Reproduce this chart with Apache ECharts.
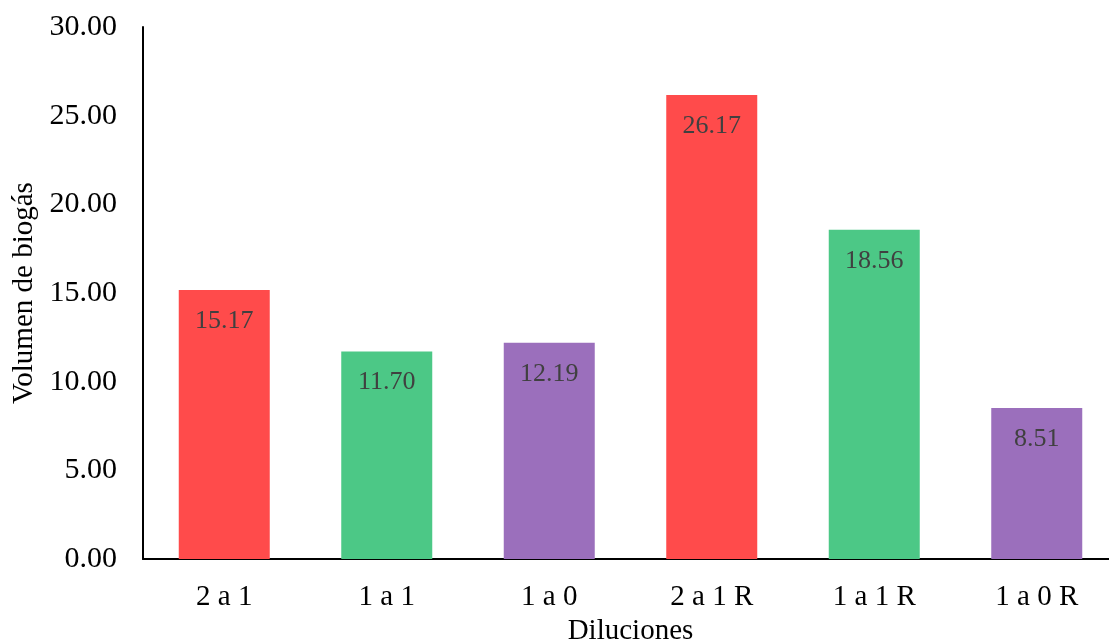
<!DOCTYPE html>
<html>
<head>
<meta charset="utf-8">
<script src="https://cdn.jsdelivr.net/npm/echarts@6/dist/echarts.min.js"></script>
<style>
  html, body { margin: 0; padding: 0; background: #fff; }
  #chart { width: 1109px; height: 643px; }
</style>
</head>
<body>
<div id="chart"></div>
<script>
// Biogas volume per dilution
const categories = ['2 a 1', '1 a 1', '1 a 0', '2 a 1 R', '1 a 1 R', '1 a 0 R'];
const volumes = [15.17, 11.70, 12.19, 26.17, 18.56, 8.51];
const barColors = ['#FF4B4B', '#4CC886', '#9B6FBC', '#FF4B4B', '#4CC886', '#9B6FBC'];
const yTicks = { min: 0, max: 30, interval: 5 };

const serif = '"Liberation Serif", "Times New Roman", serif';

const chart = echarts.init(document.getElementById('chart'), null, { renderer: 'canvas' });
chart.setOption({
  animation: false,
  grid: { left: 143, top: 27, right: -9, bottom: 84, outerBoundsMode: 'none', containLabel: false },
  xAxis: {
    type: 'category',
    data: categories,
    name: 'Diluciones',
    nameLocation: 'middle',
    nameGap: 57,
    nameTextStyle: { fontFamily: serif, fontSize: 29, color: '#000' },
    axisLine: { lineStyle: { color: '#000', width: 2 } },
    axisTick: { show: false },
    axisLabel: { fontFamily: serif, fontSize: 29, color: '#000', margin: 24 }
  },
  yAxis: {
    type: 'value',
    min: yTicks.min,
    max: yTicks.max,
    interval: yTicks.interval,
    name: 'Volumen de biogás',
    nameLocation: 'middle',
    nameGap: 100,
    nameTextStyle: { fontFamily: serif, fontSize: 29, color: '#000' },
    axisLine: { show: true, lineStyle: { color: '#000', width: 2 } },
    axisTick: { show: false },
    splitLine: { show: false },
    axisLabel: {
      fontFamily: serif, fontSize: 30, color: '#000', margin: 26,
      formatter: v => v.toFixed(2)
    }
  },
  series: [{
    type: 'bar',
    barWidth: '56%',
    data: volumes.map((v, i) => ({ value: v, itemStyle: { color: barColors[i] } })),
    label: {
      show: true,
      position: 'insideTop',
      distance: 18,
      fontFamily: serif,
      fontSize: 26,
      color: '#404040',
      formatter: p => p.value.toFixed(2)
    }
  }]
});
</script>
</body>
</html>
